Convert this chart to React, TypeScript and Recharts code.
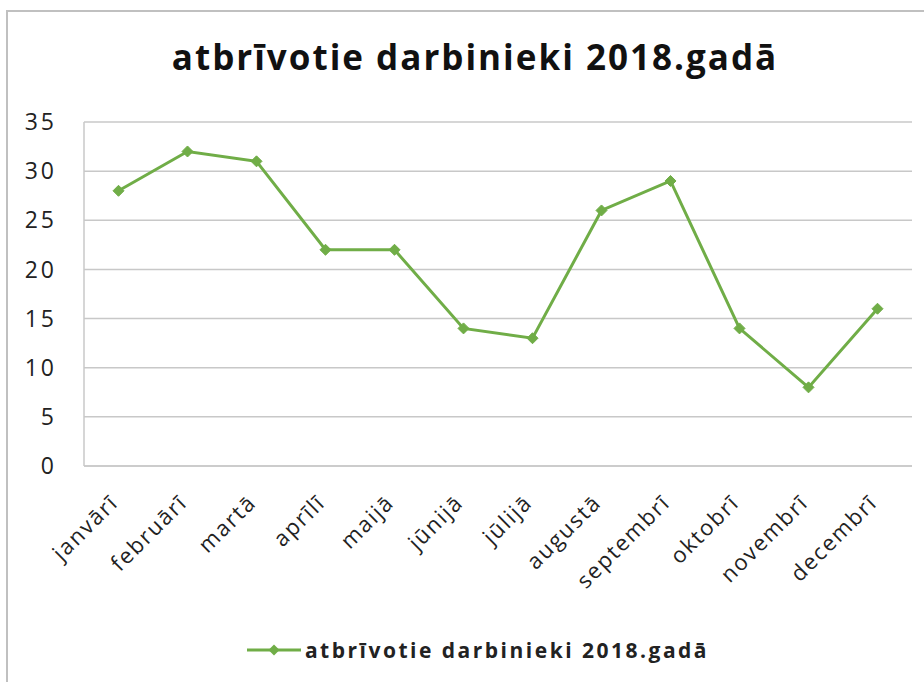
import React from 'react';
import { LineChart, Line, XAxis, YAxis, CartesianGrid, Legend } from 'recharts';

const months = ['janvārī', 'februārī', 'martā', 'aprīlī', 'maijā', 'jūnijā', 'jūlijā', 'augustā', 'septembrī', 'oktobrī', 'novembrī', 'decembrī'];
const released = [28, 32, 31, 22, 22, 14, 13, 26, 29, 14, 8, 16];
const yTicks = [0, 5, 10, 15, 20, 25, 30, 35];
const seriesName = 'atbrīvotie darbinieki 2018.gadā';
const titleText = 'atbrīvotie darbinieki 2018.gadā';

const data = months.map((m, i) => ({ month: m, value: released[i] }));

const GREEN = '#70AD47';
const FONT = '"Open Sans", "Noto Sans", sans-serif';

const Diamond = (props: any) => {
  const { cx, cy } = props;
  if (cx == null || cy == null) return null;
  const r = 5.5;
  return <path d={`M${cx},${cy - r}L${cx + r},${cy}L${cx},${cy + r}L${cx - r},${cy}Z`} fill={GREEN} stroke={GREEN} strokeWidth={1} />;
};

const XTick = (props: any) => {
  const { x, y, payload } = props;
  return (
    <g transform={`translate(${x - 10},${y + 27})`}>
      <text x={0} y={0} dy="0.71em" textAnchor="end" transform="rotate(-45)" fontFamily={FONT} fontSize={22} letterSpacing={1.8} fill="#222">
        {payload.value}
      </text>
    </g>
  );
};

const LegendContent = () => (
  <div style={{ display: 'flex', alignItems: 'center', justifyContent: 'center' }}>
    <svg width={54} height={20} style={{ marginRight: 4 }}>
      <line x1={0} y1={10} x2={54} y2={10} stroke={GREEN} strokeWidth={3} />
      <path d="M27,4.5L32.5,10L27,15.5L21.5,10Z" fill={GREEN} />
    </svg>
    <span style={{ fontFamily: FONT, fontWeight: 700, fontSize: 21, letterSpacing: 2.5, color: '#222' }}>{seriesName}</span>
  </div>
);

export default function App() {
  return (
    <div style={{ position: 'absolute', left: 0, top: 0, width: 924, height: 682, background: '#fff', overflow: 'hidden' }}>
      <div style={{ position: 'absolute', left: 6, top: 10, width: 940, height: 700, borderLeft: '2px solid #c0c0c0', borderTop: '2px solid #c0c0c0' }} />
      <div style={{ position: 'absolute', left: 0, top: 33, width: 950, textAlign: 'center', fontFamily: FONT, fontWeight: 700, fontSize: 35, letterSpacing: 2, color: '#111', lineHeight: '48px' }}>
        {titleText}
      </div>
      <div style={{ position: 'absolute', left: 0, top: 0 }}>
        <LineChart width={924} height={682} data={data} margin={{ top: 122, right: 12, bottom: 96, left: 0 }}>
          <CartesianGrid vertical={false} stroke="#c8c8c8" strokeWidth={1.5} />
          <XAxis
            dataKey="month"
            interval={0}
            height={120}
            padding={{ left: 34.5, right: 34.5 }}
            axisLine={{ stroke: '#c8c8c8', strokeWidth: 1.5 }}
            tickLine={false}
            tickSize={0}
            tickMargin={0}
            tick={<XTick />}
          />
          <YAxis
            domain={[0, 35]}
            ticks={yTicks}
            width={84}
            axisLine={{ stroke: '#c8c8c8', strokeWidth: 1.5 }}
            tickLine={false}
            tickSize={0}
            tickMargin={27}
            tick={{ fontFamily: FONT, fontSize: 23, letterSpacing: 3, fill: '#222' }}
          />
          <Legend verticalAlign="middle" align="center" content={LegendContent} wrapperStyle={{ top: 636, left: 0, width: 956 }} />
          <Line
            type="linear"
            dataKey="value"
            name={seriesName}
            stroke={GREEN}
            strokeWidth={3}
            dot={<Diamond />}
            activeDot={false}
            isAnimationActive={false}
          />
        </LineChart>
      </div>
    </div>
  );
}
